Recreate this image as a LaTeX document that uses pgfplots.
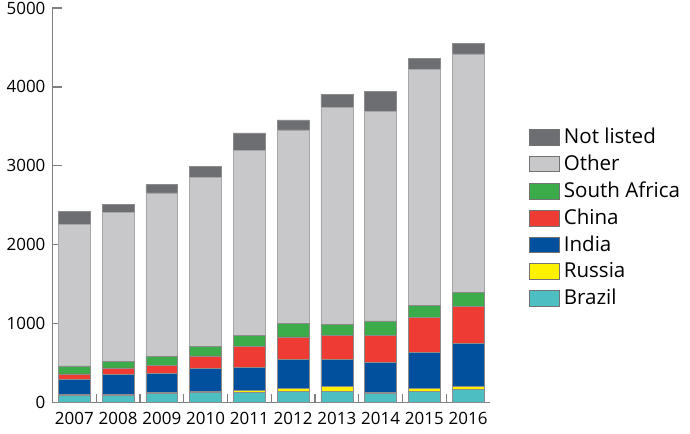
\documentclass[border=0pt]{standalone}
\usepackage{pgfplots}
\pgfplotsset{compat=1.18}
\usepackage{fontspec}
\setmainfont{Open Sans}
\definecolor{cNL}{HTML}{6D6E71}
\definecolor{cOther}{HTML}{C8C8CA}
\definecolor{cSA}{HTML}{3CAB4A}
\definecolor{cChina}{HTML}{EE3B33}
\definecolor{cIndia}{HTML}{00509E}
\definecolor{cRussia}{HTML}{FFF200}
\definecolor{cBrazil}{HTML}{4DBEC2}
\pgfplotstableread{
x Brazil Russia India China SA Other NL
0 88 20 190 67 101 1794 168
1 88 17 252 84 80 1885 106
2 117 13 244 101 109 2074 105
3 135 5 293 159 122 2137 143
4 128 23 294 265 143 2346 218
5 139 37 370 286 168 2455 126
6 139 63 348 307 138 2745 168
7 113 21 378 336 189 2652 257
8 139 37 462 440 159 2981 143
9 168 34 550 464 184 3019 131
}\data
\begin{document}
\begin{tikzpicture}
\begin{axis}[
  name=ax,
  scale only axis,
  width=219.5pt, height=198pt,
  xmin=-0.5, xmax=9.5,
  ymin=0, ymax=5000,
  ybar stacked,
  bar width=0.73,
  axis x line*=bottom,
  axis y line*=left,
  axis line style={draw=black!50, line width=0.6pt},
  xtick={0,...,9},
  xticklabels={2007,2008,2009,2010,2011,2012,2013,2014,2015,2016},
  minor xtick={0.5,1.5,...,8.5},
  major x tick style={draw=none},
  minor x tick style={draw=black!50, line width=0.6pt},
  minor tick length=4.5pt,
  ytick={0,1000,...,5000},
  major tick length=5pt,
  y tick style={draw=black!50, line width=0.6pt},
  tick align=inside,
  /pgf/number format/assume math mode=true,
  /pgf/number format/1000 sep={},
  ticklabel style={font=\fontsize{8.5}{10}\selectfont},
  yticklabel style={inner ysep=0pt},
  xticklabel style={yshift=-1.5pt},
  reverse legend,
  legend cell align=left,
  legend style={draw=none, fill=none, at={(1.075,0.718)}, anchor=north west,
    font=\fontsize{10.3}{12}\selectfont, row sep=0.2pt,
    /tikz/every even column/.append style={column sep=4pt}},
  legend image code/.code={\draw[#1, draw=black!55, line width=0.4pt] (0pt,-4pt) rectangle (15pt,4pt);},
  every axis plot/.append style={draw=black!45, line width=0.3pt},
]
\addplot[fill=cBrazil] table[x=x,y=Brazil]{\data};
\addplot[fill=cRussia] table[x=x,y=Russia]{\data};
\addplot[fill=cIndia] table[x=x,y=India]{\data};
\addplot[fill=cChina] table[x=x,y=China]{\data};
\addplot[fill=cSA] table[x=x,y=SA]{\data};
\addplot[fill=cOther, draw=black!35] table[x=x,y=Other]{\data};
\addplot[fill=cNL] table[x=x,y=NL]{\data};
\legend{Brazil,Russia,India,China,South Africa,Other,Not listed}
\end{axis}
\path (ax.south west) ++(-25.5pt,-15.5pt) coordinate (bl);
\path (ax.north east) ++(100pt,4pt) coordinate (tr);
\path (bl) rectangle (tr);
\end{tikzpicture}
\end{document}
